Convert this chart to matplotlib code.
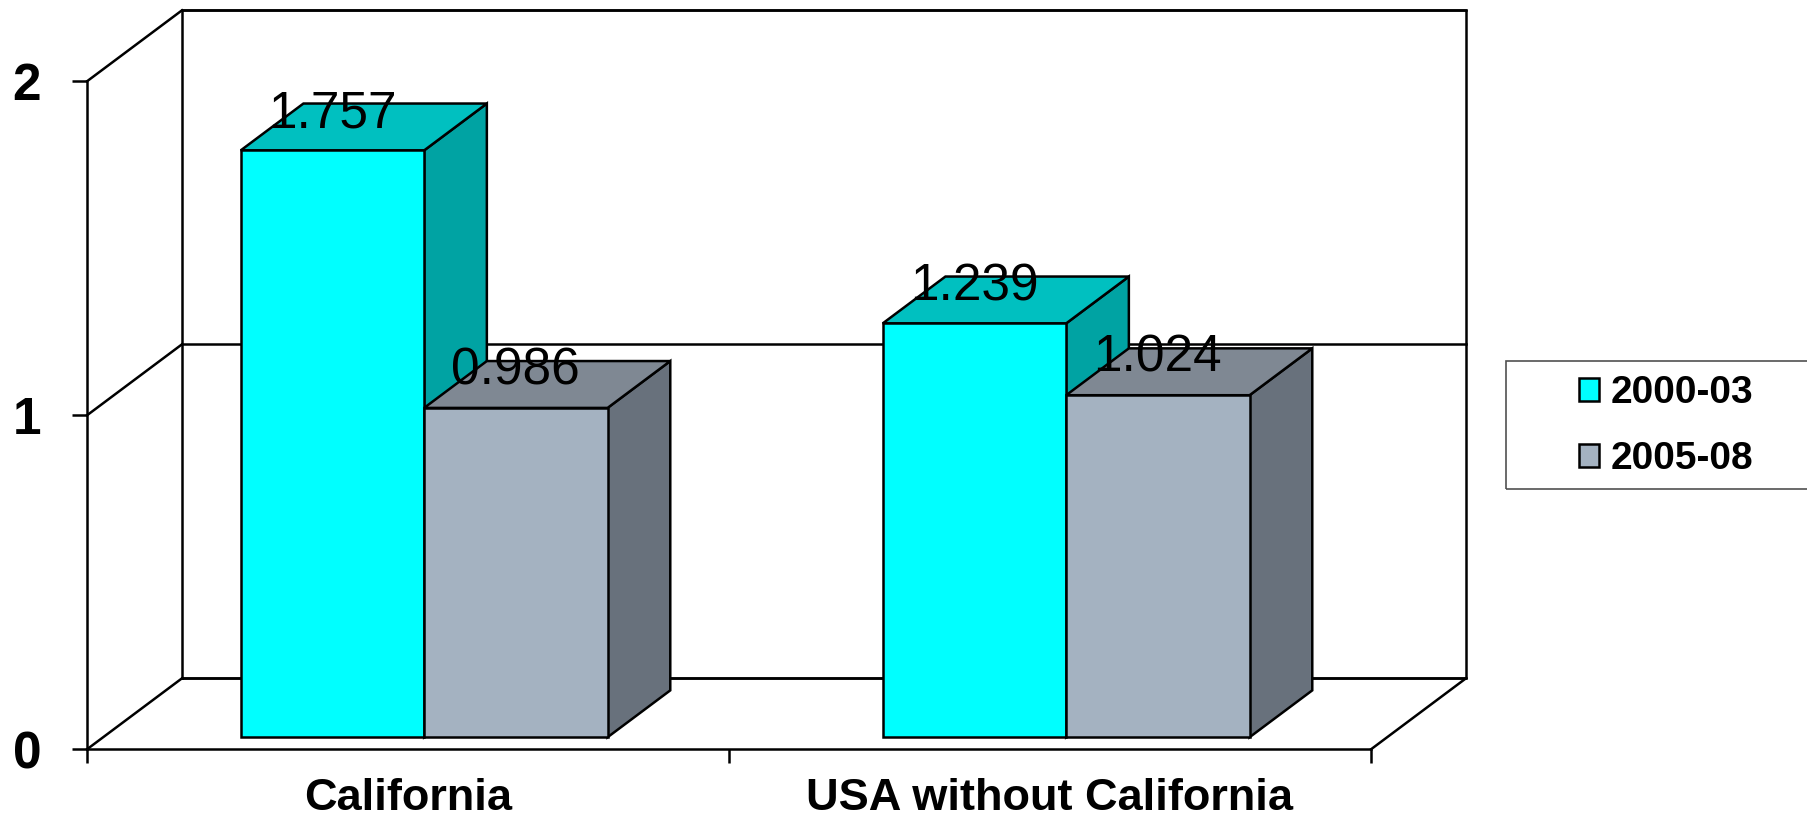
import matplotlib.pyplot as plt
from matplotlib.patches import Polygon, Patch, Rectangle

categories = ["California", "USA without California"]
series_names = ["2000-03", "2005-08"]
values_2000_03 = [1.757, 1.239]
values_2005_08 = [0.986, 1.024]
yticks = [0, 1, 2]

front_colors = ["#00FFFF", "#A4B2C1"]
top_colors = ["#00C0C0", "#7F8893"]
side_colors = ["#00A3A3", "#68717C"]

plt.rcParams['font.family'] = ['Liberation Sans', 'DejaVu Sans']

W, H = 1808, 821
fig = plt.figure(figsize=(W / 100, H / 100), dpi=100)
# axes box is the front plane of the 3d chart
ax = fig.add_axes([87 / W, 71.7 / H, 1284 / W, 668 / H])
ax.set_xlim(0, len(categories))
ax.set_ylim(0, 2)

# oblique offset of the full depth, in data units
DX, DY = 95 / 642, 71 / 334
LW = 1.8


def proj(x, y, d):
    return (x + d * DX, y + d * DY)


def line(pts, **kw):
    xs, ys = zip(*pts)
    ax.plot(xs, ys, color="black", lw=LW, clip_on=False,
            solid_capstyle="projecting", **kw)


nx = len(categories)
ymax = yticks[-1]
# back wall and floor
line([proj(0, 0, 1), proj(0, ymax, 1), proj(nx, ymax, 1),
      proj(nx, 0, 1), proj(0, 0, 1)], zorder=1)
line([proj(nx, 0, 0), proj(nx, 0, 1)], zorder=1)
for t in yticks:
    line([proj(0, t, 0), proj(0, t, 1)], zorder=1)
    line([proj(0, t, 1), proj(nx, t, 1)], zorder=1)

# bars
w = 1 / 3.5
d0, d1 = 0.17, 0.83
series = [values_2000_03, values_2005_08]
for i in range(nx):
    for j, vals in enumerate(series):
        v = vals[i]
        x0 = i + 0.5 - w + j * w
        x1 = x0 + w
        front = [proj(x0, 0, d0), proj(x1, 0, d0), proj(x1, v, d0), proj(x0, v, d0)]
        top = [proj(x0, v, d0), proj(x1, v, d0), proj(x1, v, d1), proj(x0, v, d1)]
        side = [proj(x1, 0, d0), proj(x1, 0, d1), proj(x1, v, d1), proj(x1, v, d0)]
        for pts, c in ((side, side_colors[j]), (top, top_colors[j]), (front, front_colors[j])):
            ax.add_patch(Polygon(pts, closed=True, facecolor=c, edgecolor="black",
                                 lw=LW, joinstyle="miter", clip_on=False, zorder=3))
        lx, ly = proj(x0 + w / 2, v, d0)
        ax.text(lx, ly + 0.07, f"{v:.3f}", ha="center", va="baseline",
                fontsize=37, zorder=5)

# front axes
for s in ("top", "right"):
    ax.spines[s].set_visible(False)
for s in ("left", "bottom"):
    ax.spines[s].set_linewidth(LW)
ax.set_yticks(yticks)
ax.set_yticklabels([str(t) for t in yticks], fontsize=37, fontweight="bold")
ax.tick_params(axis="y", length=11, width=LW, pad=22)
ax.set_xticks([i + 0.5 for i in range(nx)])
ax.set_xticklabels(categories, fontsize=32.5, fontweight="bold")
ax.set_xticks(range(nx + 1), minor=True)
ax.tick_params(axis="x", which="major", length=0, pad=21)
ax.tick_params(axis="x", which="minor", length=10, width=LW)
ax.set_facecolor("none")

# legend
handles = [Patch(facecolor=front_colors[j], edgecolor="black", lw=LW) for j in range(2)]
fig.legend(handles, series_names, loc="upper left",
           bbox_to_anchor=(1579 / W, 1 - 375 / H), frameon=False,
           prop={"size": 28, "weight": "bold"}, handlelength=0.52,
           handleheight=0.52, handletextpad=0.3, labelspacing=0.78,
           borderpad=0, borderaxespad=0)
fig.add_artist(Rectangle((1505.7 / W, 1 - 489 / H), 400 / W, 128.3 / H,
                         transform=fig.transFigure, fill=False,
                         edgecolor="#505050", lw=1.2, clip_on=False))

fig.savefig("out.png", dpi=100)
